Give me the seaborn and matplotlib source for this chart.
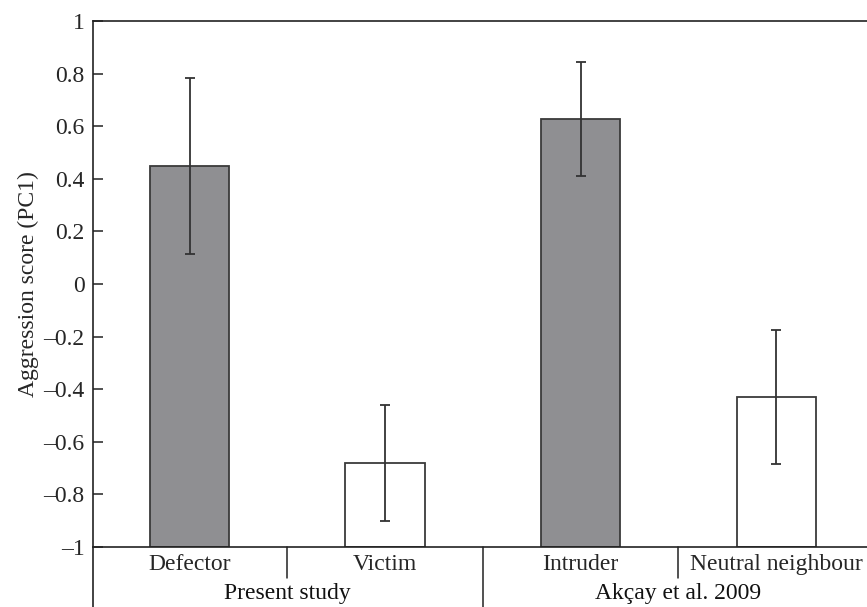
import matplotlib
matplotlib.use("Agg")
import matplotlib.pyplot as plt
import matplotlib.transforms as mtransforms
import seaborn as sns
import pandas as pd
import numpy as np

# ---- data ----
categories = ["Defector", "Victim", "Intruder", "Neutral neighbour"]
scores = [0.45, -0.68, 0.626, -0.428]
err_low = [0.114, -0.90, 0.411, -0.684]
err_high = [0.784, -0.46, 0.843, -0.174]
groups = ["Present study", "Akçay et al. 2009"]
bar_colors = ["#8e8f93", "#ffffff", "#8e8f93", "#ffffff"]
ytick_values = [-1, -0.8, -0.6, -0.4, -0.2, 0, 0.2, 0.4, 0.6, 0.8, 1]
ytick_labels = ["–1", "–0.8", "–0.6", "–0.4", "–0.2", "0", "0.2", "0.4", "0.6", "0.8", "1"]
baseline = -1

sns.set_style("white")
plt.rcParams["font.family"] = ["Liberation Serif", "DejaVu Serif"]
FS = 17

df = pd.DataFrame({"category": categories, "score": scores})
df["height"] = df["score"] - baseline

fig = plt.figure(figsize=(8.67, 6.07), dpi=100)
W, H = 867, 607
ax = fig.add_axes([93 / W, 60 / H, (W - 93) / W, 526 / H])

sns.barplot(data=df, x="category", y="height", hue="category",
            palette=dict(zip(categories, bar_colors)), legend=False,
            width=0.405, edgecolor="#3a3a3a", linewidth=1.3,
            bottom=baseline, ax=ax)

xpos = np.arange(len(categories))
yerr = [np.array(scores) - np.array(err_low), np.array(err_high) - np.array(scores)]
ax.errorbar(xpos, scores, yerr=yerr, fmt="none", ecolor="#333333",
            elinewidth=1.3, capsize=3.4, capthick=1.3, zorder=5)

ax.set_xlim(-0.494, 3.465)
ax.set_ylim(-1, 1)
ax.set_yticks(ytick_values)
ax.set_yticklabels(ytick_labels, fontsize=FS)
ax.set_xticks(xpos)
ax.set_xticklabels(categories, fontsize=FS)
ax.tick_params(axis="x", length=0, pad=5)
ax.tick_params(axis="y", direction="in", length=7, width=1.1, color="#222222", pad=6,
               left=True)
ax.set_xlabel("")
ax.set_ylabel("Aggression score (PC1)", fontsize=FS, labelpad=3)

for side in ["left", "top", "bottom"]:
    ax.spines[side].set_visible(True)
    ax.spines[side].set_color("#222222")
    ax.spines[side].set_linewidth(1.2)
ax.spines["right"].set_visible(False)

# separators and group labels below the axis
trans = mtransforms.blended_transform_factory(ax.transData, ax.transAxes)
px = 1.0 / 526  # one pixel in axes fraction (vertical)
ax.plot([-0.494, -0.494], [0, -60 * px], transform=trans, color="#222222",
        lw=1.2, clip_on=False)
for xs in [0.5, 2.5]:
    ax.plot([xs, xs], [0, -31 * px], transform=trans, color="#222222",
            lw=1.1, clip_on=False)
ax.plot([1.5, 1.5], [0, -60 * px], transform=trans, color="#222222",
        lw=1.1, clip_on=False)
for gx, g in zip([0.5, 2.5], groups):
    ax.text(gx, -47 * px, g, transform=trans, ha="center", va="center",
            fontsize=FS, color="#111111")

fig.savefig("out.png", dpi=100)
